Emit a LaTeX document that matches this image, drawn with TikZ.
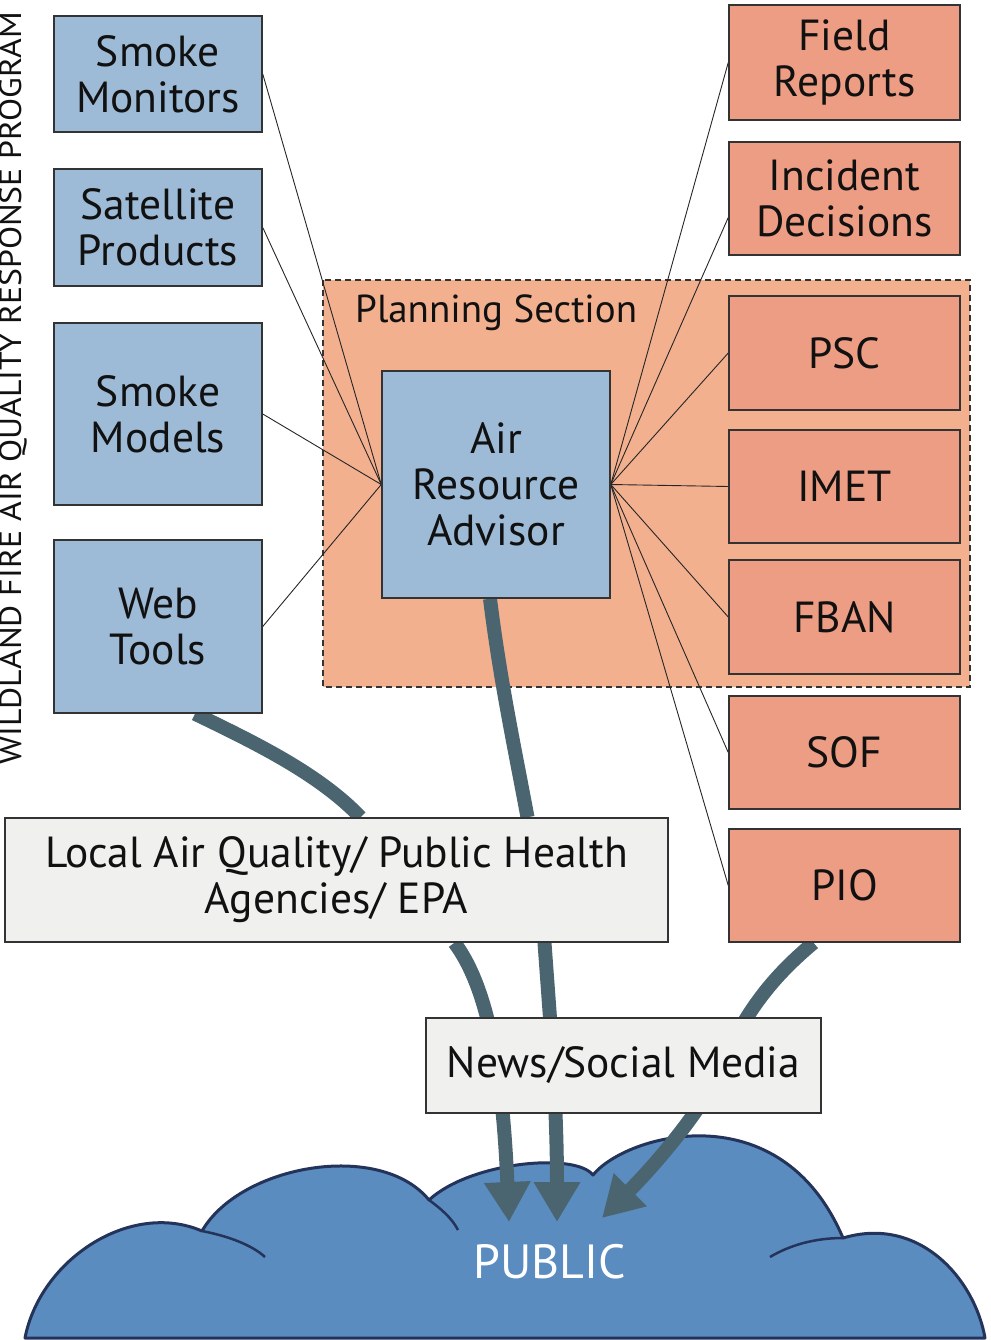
\documentclass[tikz,border=0pt]{standalone}
\usepackage{fontspec}
\setmainfont{PT Sans}
\usetikzlibrary{arrows.meta,calc}
\pgfdeclarelayer{bg}
\pgfdeclarelayer{conn}
\pgfsetlayers{bg,conn,main}
\definecolor{boxblue}{HTML}{9DBAD7}
\definecolor{boxsalmon}{HTML}{EE9D85}
\definecolor{planfill}{HTML}{F2B08F}
\definecolor{boxgray}{HTML}{F0F0EE}
\definecolor{arrowc}{HTML}{4A6570}
\definecolor{cloudfill}{HTML}{5B8CBF}
\definecolor{cloudline}{HTML}{24335A}
\definecolor{edgec}{HTML}{333333}
\definecolor{textc}{HTML}{111111}
\tikzset{
  basebox/.style={draw=edgec, line width=1.5pt, rectangle, align=center, inner sep=0pt,
    text=textc, font=\fontsize{43.5}{46}\selectfont},
  bluebox/.style={basebox, fill=boxblue},
  redbox/.style={basebox, fill=boxsalmon},
  graybox/.style={basebox, fill=boxgray},
  thinlink/.style={draw=black!85, line width=0.9pt},
  thickflow/.style={draw=arrowc, line width=14pt},
  thickarrow/.style={thickflow, -{Triangle[length=40pt,width=44pt]}},
}
\begin{document}
\begin{tikzpicture}[x=1pt,y=-1pt]
\useasboundingbox (0,0) rectangle (990,1340);
\clip (0,0) rectangle (990,1340);
% left boxes
\node[bluebox, minimum width=208pt, minimum height=116pt] (sm) at (158,74) {Smoke\\Monitors};
\node[bluebox, minimum width=208pt, minimum height=117pt] (sat) at (158,227.5) {Satellite\\Products};
\node[bluebox, minimum width=208pt, minimum height=182pt] (smod) at (158,414) {Smoke\\Models};
\node[bluebox, minimum width=208pt, minimum height=173pt] (web) at (158,626.5) {Web\\Tools};
% center
\node[bluebox, minimum width=228pt, minimum height=227pt] (ara) at (496,484.5) {Air\\Resource\\Advisor};
% right boxes
\node[redbox, minimum width=231pt, minimum height=115pt] (fr) at (844.5,62.5) {Field\\Reports};
\node[redbox, minimum width=231pt, minimum height=113pt] (inc) at (844.5,198.5) {Incident\\Decisions};
\node[redbox, minimum width=231pt, minimum height=114pt] (psc) at (844.5,353) {PSC};
\node[redbox, minimum width=231pt, minimum height=113pt] (imet) at (844.5,486.5) {IMET};
\node[redbox, minimum width=231pt, minimum height=114pt] (fban) at (844.5,617) {FBAN};
\node[redbox, minimum width=231pt, minimum height=113pt] (sof) at (844.5,752.5) {SOF};
\node[redbox, minimum width=231pt, minimum height=113pt] (pio) at (844.5,885.5) {PIO};
% gray boxes
\node[graybox, minimum width=663pt, minimum height=124pt] (laq) at (336.5,880) {Local Air Quality/ Public Health\\Agencies/ EPA};
\node[graybox, minimum width=395pt, minimum height=95pt] (news) at (623.5,1065.5) {News/Social Media};
% labels
\node[anchor=base west, text=textc, font=\fontsize{39}{42}\selectfont, inner sep=0pt] (plan) at (355,322) {Planning Section};
\node[text=white, font=\fontsize{48}{50}\selectfont, inner sep=0pt] (pub) at (550,1262) {PUBLIC};
\node[rotate=90, anchor=base west, inner sep=0pt, text=textc, font=\fontsize{31}{34}\selectfont] (prog) at (21,765) {\scalebox{1.09}[1]{WILDLAND FIRE AIR QUALITY RESPONSE PROGRAM}};
% arrow tips
\coordinate (tipA) at (509,1222);
\coordinate (tipB) at (557,1222);
\coordinate (tipC) at (602,1218);

\begin{pgfonlayer}{bg}
  \fill[planfill] (323,280) rectangle (970,687);
  \draw[edgec, line width=1.5pt, dash pattern=on 6pt off 4pt] (323,280) rectangle (970,687);
  % cloud
  \filldraw[fill=cloudfill, draw=cloudline, line width=3pt, line join=round]
    (25,1338) .. controls (40,1260) and (130,1200) .. (202,1231)
    .. controls (240,1165) and (380,1140) .. (429,1200)
    .. controls (470,1162) and (575,1152) .. (593,1175)
    .. controls (625,1135) and (780,1090) .. (843,1238)
    .. controls (920,1215) and (975,1280) .. (985,1338) -- cycle;
  \draw[cloudline, line width=2.5pt] (202,1231) .. controls (228,1236) and (252,1245) .. (265,1257);
  \draw[cloudline, line width=2.5pt] (429,1200) .. controls (440,1208) and (452,1218) .. (458,1230);
  \draw[cloudline, line width=2.5pt] (770,1257) .. controls (790,1245) and (815,1238) .. (843,1238);
\end{pgfonlayer}

\begin{pgfonlayer}{conn}
  \foreach \n in {sm,sat,smod,web} { \draw[thinlink] (\n.east) -- (ara.west); }
  \foreach \n in {fr,psc,imet,fban,sof,pio} { \draw[thinlink] (ara.east) -- (\n.west); }
  \draw[thinlink] (ara.east) -- ([yshift=-19pt]inc.west);
  % thick flows
  \draw[thickflow] ([xshift=37pt]web.south) .. controls (260,745) and (320,775) .. ([xshift=24pt]laq.north);
  \draw[thickflow] ([xshift=-6pt]ara.south) .. controls (500,680) and (515,750) .. ([xshift=191pt]laq.north);
  \draw[thickarrow] ([xshift=118pt]laq.south) .. controls (490,990) and (503,1080) .. (tipA);
  \draw[thickarrow] ([xshift=208pt]laq.south) .. controls (550,1020) and (557,1100) .. (tipB);
  \draw[thickarrow] ([xshift=-31pt]pio.south) .. controls (775,975) and (745,1010) .. (720,1070)
     .. controls (705,1105) and (660,1160) .. (tipC);
\end{pgfonlayer}
\end{tikzpicture}
\end{document}
